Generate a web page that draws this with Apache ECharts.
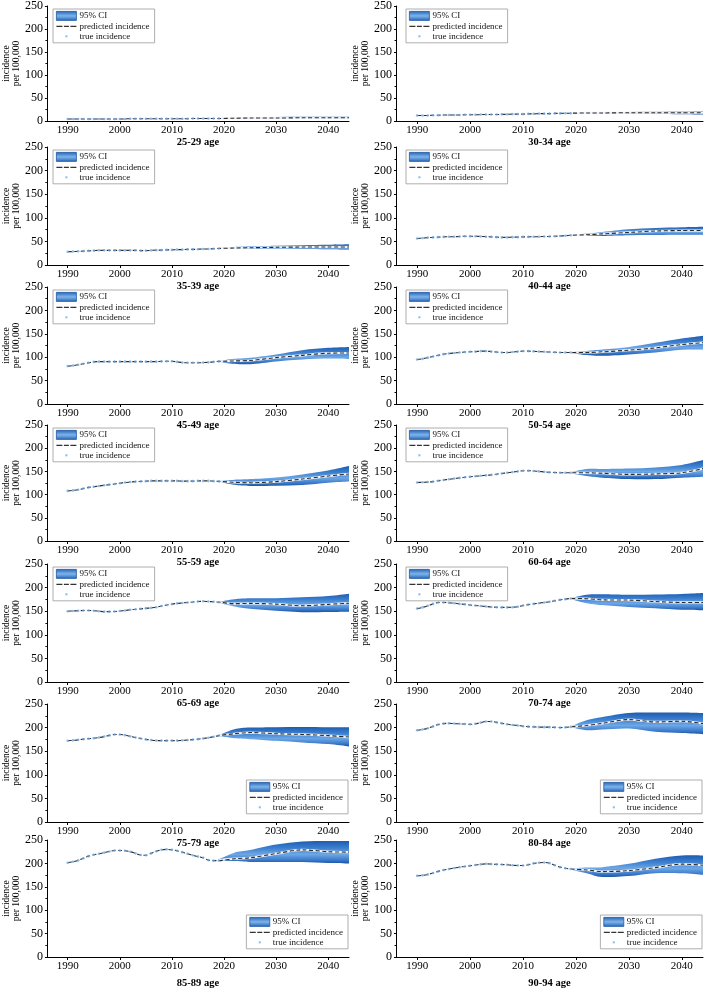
<!DOCTYPE html>
<html><head><meta charset="utf-8">
<script src="https://cdn.jsdelivr.net/npm/echarts@6/dist/echarts.min.js"></script>
<style>html,body{margin:0;padding:0;background:#fff}#c{width:709px;height:991px}</style>
</head><body><div id="c"></div><script>
// ---------- data ----------
const histYears = [1990,1991,1992,1993,1994,1995,1996,1997,1998,1999,2000,2001,2002,2003,2004,2005,2006,2007,2008,2009,2010,2011,2012,2013,2014,2015,2016,2017,2018,2019];
const fcYears = [2019,2022,2025,2030,2035,2040,2044];
const xTickYears = [1990,2000,2010,2020,2030,2040];
const ageLabels = ['25-29 age','30-34 age','35-39 age','40-44 age','45-49 age','50-54 age','55-59 age','60-64 age','65-69 age','70-74 age','75-79 age','80-84 age','85-89 age','90-94 age'];

const true2529 = [4.5,4.5,4.5,4.5,4.5,4.5,4.5,4.5,4.5,4.5,4.5,4.5,5,5,5,5,5,5,5,5,5,5,5,5,5.5,5.5,5.5,5.5,5.5,5.5];
const pred2529 = [5.5,6,6.5,6.5,7,7,7];
const lo2529 = [5.3,5,5,4.8,4.7,4.6,4.5];
const hi2529 = [5.7,7,7.8,8.5,9,9.3,9.5];

const true3034 = [12,12,12,12.5,12.5,13,13,13,13,13.5,13.5,13.5,14,14,14,14,14.5,14.5,15,15,15,15.5,15.5,16,16,16,16.5,16.5,17,17];
const pred3034 = [17,17.5,17.5,18,18,18,18];
const lo3034 = [16.8,16.5,16,15.5,15,14.5,14];
const hi3034 = [17.2,18.5,19,19.5,20,20.5,21];

const true3539 = [28,28.5,29,29.5,30,30.5,31,31,31,31,31,31,31,31,30.5,30.5,31,31.5,31.5,32,32,32.5,32.5,33,33,33.5,34,34,34.5,35];
const pred3539 = [35,36,36.5,37.5,38,38,38];
const lo3539 = [34.5,34,34,34,34,33.5,33];
const hi3539 = [35.5,38,39.5,41,42,43,44];

const true4044 = [56,57,58,58.5,59,59.5,60,60,60.5,61,61,61,60.5,60,59.5,59,58.5,58.5,59,59,59.5,59.5,60,60,60.5,60.5,61,61.5,62,63];
const pred4044 = [63,64,66,69,72,73,73];
const lo4044 = [62.5,61.5,61.5,63,63.5,64,64];
const hi4044 = [63.5,66.5,70,75.5,78.5,80,81];

const true4549 = [81,82,84,86,88,90,90.5,90.5,90.5,90.5,90.5,90.5,90.5,90.5,90.5,90.5,90.5,90.5,91,91.5,91.5,90,88.5,88,88,88,88.5,89,90,91];
const pred4549 = [91,92,93,99,104,108.5,109];
const lo4549 = [90,86,85,91,95,97,96];
const hi4549 = [92,96.5,99,106,115,120,122];

const true5054 = [95,96.5,99,101.5,104,106.5,108,109,110,111,111.5,112,113,113,112,111,110,110,111,112,113,113,112.5,112,111.5,111,110.5,110,110,110];
const pred5054 = [110,110,111.5,115,120,127,131];
const lo5054 = [109,104.5,103,106,110,116,116.5];
const hi5054 = [111,113.5,116.5,122,131,140,146];

const true5559 = [108,109,110.5,113,115.5,117,118.5,120,121.5,123,124.5,126,127,128,128.5,129,129.5,129.5,129.5,129.5,129.5,129.5,129,129,129,129.5,129.5,129.5,129,128.5];
const pred5559 = [128.5,126.5,125.5,128,133.5,140,144.5];
const lo5559 = [127.5,121,118.5,119,120.5,125.5,128];
const hi5559 = [129.5,132,133.5,137,143.5,152,161.5];

const true6064 = [126,126.5,127,128,130,131.5,133,134.5,136,137.5,138.5,139.5,140.5,141.5,142.5,144,145.5,147,148.5,150,151.5,151.5,151,150,149,148,147.5,147,147,147];
const pred6064 = [147,147,146,143.5,144.5,147,156];
const lo6064 = [146,140,136.5,133.5,133.5,136.5,138.5];
const hi6064 = [148,155,155,156,158.5,164,174.5];

const true6569 = [150,150.5,151,151.5,151.5,151,150,149,149,149.5,150.5,151.5,153,154,155,156,157,158.5,161,163,165,166.5,167.5,168.5,169.5,170.5,171,170.5,170,169];
const pred6569 = [169,166,166.5,165,161.5,164.5,167];
const lo6569 = [168,160,155,151,148,148.5,149];
const hi6569 = [170,175.5,177.5,177.5,179.5,182,187];

const true7074 = [155.5,158,161.5,165.5,168.5,168.5,168,167,165.5,164.5,163,162,161,160,159,158.5,158,158,158.5,159.5,162,164,165.5,167,168.5,170,172,174,175.5,177];
const pred7074 = [177,176.5,174,173.5,170.5,168.5,168.5];
const lo7074 = [176,167,163,159,156,153,152];
const hi7074 = [178,185,186,185,185.5,186.5,188.5];

const true7579 = [172,173,174,175.5,176.5,177.5,179,181,183.5,185.5,185.5,184,181.5,179,177,175,173.5,172.5,172.5,172.5,172.5,172.5,173,173.5,174.5,175.5,177,178.5,180.5,183];
const pred7579 = [183,187,189.5,187,185.5,183,180];
const lo7579 = [182,177.5,175.5,172,168.5,165,160];
const hi7579 = [184,196.5,200,201,201.5,201,200.5];

const true8084 = [194.5,196,198.5,202.5,206.5,208.5,209,208.5,208,207.5,207,208,210.5,213,213,211,209,207,205.5,204.5,203,202,201.5,201,201,201,200.5,200,200.5,201.5];
const pred8084 = [201.5,204.5,209,217,212,213.5,208.5];
const lo8084 = [200.5,194.5,196,198,191,188.5,186];
const hi8084 = [202.5,215.5,222.5,231,232,232,231];

const true8589 = [201.5,203.5,206.5,211,215.5,218.5,220.5,223,225.5,227.5,227.5,227,225,221.5,218,217.5,221.5,226,229,230,229,227,224,220.5,217.5,214.5,212,207,206,206];
const pred8589 = [207,210,212,221,229,225,224];
const lo8589 = [205,205,203,203,203,201,200];
const hi8589 = [209,223,228.5,240.5,247,248,248];

const true9094 = [173.5,174.5,176.5,179.5,183,186,188,190,192,193.5,195,196.5,198,199,198.5,198,197.5,197,196,195.5,195.5,197,200,201.5,202,200.5,196,192,189.5,188];
const pred9094 = [188,186,182.5,184.5,191,198.5,196];
const lo9094 = [187,179,171,173,179,179,175.5];
const hi9094 = [189,191,192,199,210,217,217];

const panelData = [
  [true2529,pred2529,lo2529,hi2529],[true3034,pred3034,lo3034,hi3034],
  [true3539,pred3539,lo3539,hi3539],[true4044,pred4044,lo4044,hi4044],
  [true4549,pred4549,lo4549,hi4549],[true5054,pred5054,lo5054,hi5054],
  [true5559,pred5559,lo5559,hi5559],[true6064,pred6064,lo6064,hi6064],
  [true6569,pred6569,lo6569,hi6569],[true7074,pred7074,lo7074,hi7074],
  [true7579,pred7579,lo7579,hi7579],[true8084,pred8084,lo8084,hi8084],
  [true8589,pred8589,lo8589,hi8589],[true9094,pred9094,lo9094,hi9094]
];

// ---------- layout ----------
const rowTop = [6,147,287,425,564,704,840];
const rowBottom = [121,265,404,541,682,822,957];
const colLeft = [43,396];
const colWidth = [306,307];
const FONT = 'Liberation Serif';

function bandGrad(){ return {type:'linear',x:0,y:0,x2:0,y2:1,global:false,colorStops:[
  {offset:0,color:'#1d5cb0'},{offset:0.3,color:'#3a7dcd'},{offset:0.6,color:'#6ca7e6'},{offset:0.85,color:'#3b7acb'},{offset:1,color:'#1a54a6'}]}; }
const legendGrad = {type:'linear',x:0,y:0,x2:0,y2:1,colorStops:[
  {offset:0,color:'#2463b6'},{offset:0.5,color:'#7fb4ea'},{offset:1,color:'#2463b6'}]};

// Catmull-Rom -> cubic Bezier segments through pixel points (curve styling only)
function curveSegs(pts){
  let d='';
  for(let k=0;k<pts.length-1;k++){
    const p0=pts[k-1]||pts[k], p1=pts[k], p2=pts[k+1], p3=pts[k+2]||pts[k+1];
    const c1=[p1[0]+(p2[0]-p0[0])/6, p1[1]+(p2[1]-p0[1])/6];
    const c2=[p2[0]-(p3[0]-p1[0])/6, p2[1]-(p3[1]-p1[1])/6];
    d+='C'+c1[0]+','+c1[1]+' '+c2[0]+','+c2[1]+' '+p2[0]+','+p2[1];
  }
  return d;
}

const grids=[], xAxes=[], yAxes=[], series=[], legends=[];
panelData.forEach((pd,i)=>{
  const [tv,pr,lo,hi] = pd;
  const row = Math.floor(i/2), col = i%2;
  const top = rowTop[row], h = rowBottom[row]-rowTop[row];
  const left = colLeft[col], w = colWidth[col];
  grids.push({left:left, top:top, width:w, height:h, containLabel:false});
  xAxes.push({type:'value', gridIndex:i, min:1986, max:2044,
    name: ageLabels[i], nameLocation:'middle', nameGap: row===6 ? 21 : 15,
    nameTextStyle:{fontFamily:FONT, fontSize:10.5, fontWeight:'bold', color:'#000'},
    axisLine:{show:true, onZero:false, lineStyle:{color:'#000', width:1}},
    axisTick:{show:true, length:3, customValues:xTickYears, lineStyle:{color:'#000'}},
    axisLabel:{customValues:xTickYears, formatter:(v)=>String(v), fontFamily:FONT, fontSize:11, color:'#000', margin:4},
    splitLine:{show:false}});
  yAxes.push({type:'value', gridIndex:i, min:0, max:250, interval:50,
    name:'incidence\nper 100,000', nameLocation:'middle', nameRotate:90, nameGap:24,
    nameTextStyle:{fontFamily:FONT, fontSize:9.5, color:'#000', lineHeight:10},
    axisLine:{show:true, lineStyle:{color:'#000', width:1}},
    axisTick:{show:true, length:2, lineStyle:{color:'#000'}},
    minorTick:{show:true, splitNumber:2, length:1.5, lineStyle:{color:'#000'}},
    axisLabel:{fontFamily:FONT, fontSize:12, color:'#000', margin:4},
    splitLine:{show:false}});
  // 95% CI band: custom polygon between lower and upper bounds, positioned via api.coord
  series.push({type:'custom', name:'95% CI', xAxisIndex:i, yAxisIndex:i, silent:true, z:2,
    itemStyle:{color:'#3b78c6'},
    data: fcYears.map((y,k)=>[y,lo[k],hi[k]]),
    encode:{x:0, y:[1,2]},
    renderItem:(params, api)=>{
      if (params.dataIndex !== 0) return;
      const up = fcYears.map((y,k)=>api.coord([y,hi[k]]));
      const dn = fcYears.map((y,k)=>api.coord([y,lo[k]])).reverse();
      const d = 'M'+up[0][0]+','+up[0][1]+curveSegs(up)+'L'+dn[0][0]+','+dn[0][1]+curveSegs(dn)+'Z';
      return {type:'path', shape:{pathData:d}, style:{fill:bandGrad(), stroke:null}};
    }});
  series.push({type:'line', name:'pred-under', xAxisIndex:i, yAxisIndex:i,
    data: fcYears.map((y,k)=>[y,pr[k]]), symbol:'none', smooth:0.35, silent:true,
    lineStyle:{width:2.2, color:'#eef3fa'}, z:3});
  series.push({type:'line', name:'predicted incidence', xAxisIndex:i, yAxisIndex:i,
    data: histYears.map((y,k)=>[y,tv[k]]).concat(fcYears.slice(1).map((y,k)=>[y,pr[k+1]])),
    symbol:'none', smooth:0.3, silent:true, itemStyle:{color:'#333'},
    lineStyle:{width:1.1, color:'#2a2a2a', type:[4,2.5]}, z:4});
  series.push({type:'scatter', name:'true incidence', xAxisIndex:i, yAxisIndex:i,
    data: histYears.map((y,k)=>[y,tv[k]]), symbol:'circle', symbolSize:2.6, silent:true,
    itemStyle:{color:'#6fa6df'}, z:5});
  const lg = {orient:'vertical', selectedMode:false, z:10,
    padding:[2,5,2,3], itemGap:1, itemWidth:20, itemHeight:9,
    borderColor:'#9a9a9a', borderWidth:0.8, backgroundColor:'#fff',
    textStyle:{fontFamily:FONT, fontSize:9, color:'#111', padding:[0,0,0,-2]},
    data:[
      {name:'95% CI', icon:'rect', itemStyle:{color:legendGrad, borderColor:'#1d58a8', borderWidth:0.8}},
      {name:'predicted incidence', icon:'path://M0,0M20,9M0,3.9h6v1.2h-6zM7.5,3.9h5v1.2h-5zM14,3.9h6v1.2h-6z', itemStyle:{color:'#333', borderWidth:0}},
      {name:'true incidence', icon:'path://M0,0M20,9M9,3.5h2v2h-2z', itemStyle:{color:'#6fa6df', borderWidth:0}}
    ]};
  if (row >= 5) {
    lg.right = 709 - (left + w) + 1;
    lg.top = rowBottom[row] - 42;
  } else {
    lg.left = left + 10;
    lg.top = top + 3;
  }
  legends.push(lg);
});

const chart = echarts.init(document.getElementById('c'), null, {renderer:'canvas'});
chart.setOption({
  animation:false,
  backgroundColor:'#fff',
  grid:grids, xAxis:xAxes, yAxis:yAxes, legend:legends, series:series
});
</script></body></html>
